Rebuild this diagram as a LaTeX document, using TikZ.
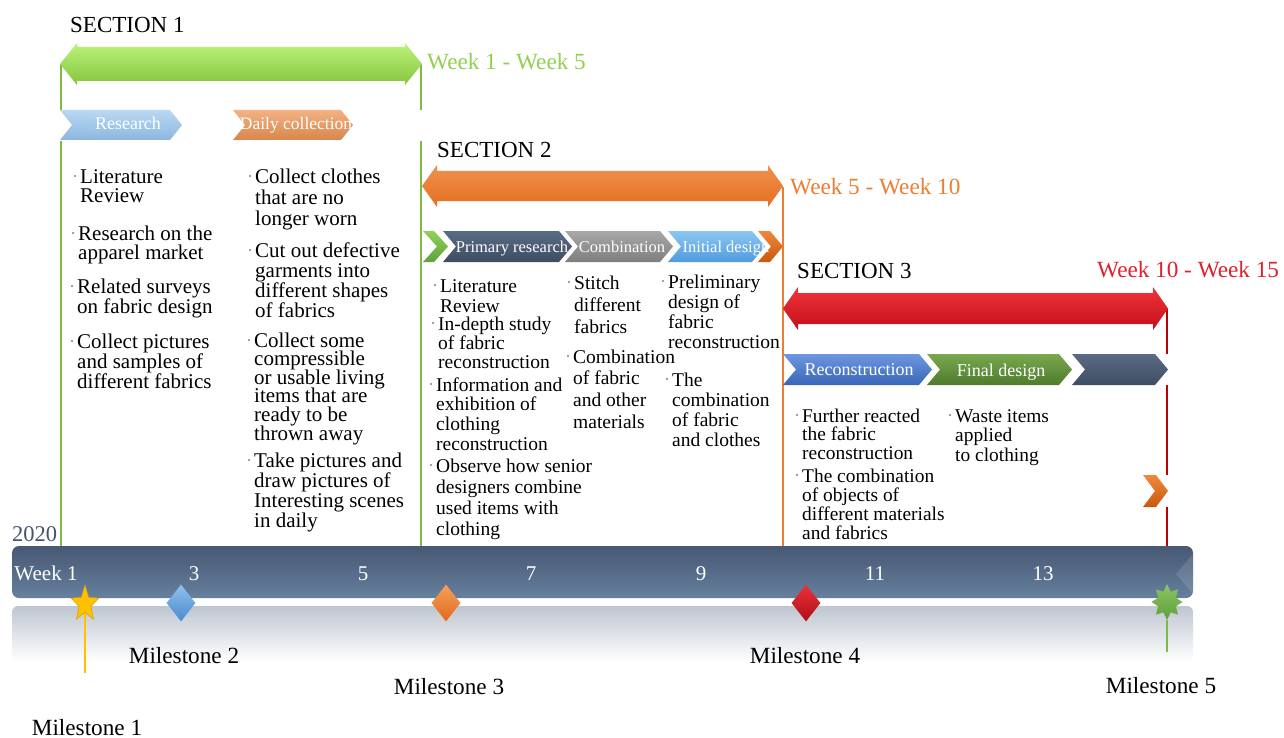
\documentclass[tikz,border=0pt]{standalone}
\usepackage{fontspec}
\setmainfont{Liberation Serif}
\usetikzlibrary{shapes.geometric}
\definecolor{gArrT}{HTML}{BDF27A}
\definecolor{gArrB}{HTML}{84C63E}
\definecolor{oArrT}{HTML}{F0904F}
\definecolor{oArrB}{HTML}{E46F1F}
\definecolor{rArrT}{HTML}{F0343C}
\definecolor{rArrB}{HTML}{C30F18}
\definecolor{gLine}{HTML}{7DBB42}
\definecolor{oLine}{HTML}{ED7D31}
\definecolor{rLine}{HTML}{C00000}
\definecolor{gTxt}{HTML}{92D050}
\definecolor{oTxt}{HTML}{ED7D31}
\definecolor{rTxt}{HTML}{E0202A}
\definecolor{slate}{HTML}{44546A}
\definecolor{barT}{HTML}{475873}
\definecolor{barB}{HTML}{66809E}
\definecolor{reflT}{HTML}{BFC6D1}
\definecolor{dotc}{HTML}{808080}
\definecolor{msY}{HTML}{FFC000}
\definecolor{msYD}{HTML}{D9A000}
\definecolor{bdT}{HTML}{8EC0EC}
\definecolor{bdB}{HTML}{4A8BD0}
\definecolor{odT}{HTML}{F4A05A}
\definecolor{odB}{HTML}{E06A1A}
\definecolor{rdT}{HTML}{E8323A}
\definecolor{rdB}{HTML}{B00E16}
\definecolor{gsT}{HTML}{8BC660}
\definecolor{gsB}{HTML}{5E9E3A}
\newcommand{\chev}[8]{%
  \definecolor{chT}{HTML}{#7}\definecolor{chB}{HTML}{#8}%
  \shade[top color=chT, bottom color=chB] (#2,#4) -- ({#3-#6},#4) -- (#3,{(#4+#5)/2}) -- ({#3-#6},#5) -- (#2,#5) -- ({#2+#6},{(#4+#5)/2}) -- cycle;
  \coordinate (#1) at ({(#2+#3)/2},{(#4+#5)/2});
}
\newcommand{\darrow}[8]{%
  \shade[top color=#7, bottom color=#8] (#1,#3) -- ({#1+#6},{#3-#5}) -- ({#1+#6},{#3-#4}) -- ({#2-#6},{#3-#4}) -- ({#2-#6},{#3-#5}) -- (#2,#3) -- ({#2-#6},{#3+#5}) -- ({#2-#6},{#3+#4}) -- ({#1+#6},{#3+#4}) -- ({#1+#6},{#3+#5}) -- cycle;
}
\newcommand{\mlines}[1]{\vtop{\let\\\cr\lineskiplimit=-30pt\lineskip=0pt\halign{##\hfil\cr#1\crcr}}}
\newcommand{\bitem}[6]{%
  \node[anchor=base west, inner sep=0, font=\fontsize{#2}{#3}\selectfont] (#1) at (#4,#5) {\mlines{#6}};
  \fill[dotc] ([shift={(-5,-7)}]#1.base west) circle (1.1);
}
\begin{document}
\begin{tikzpicture}[x=1pt,y=-1pt,
  secttitle/.style={anchor=base west, inner sep=0, font=\fontsize{23}{23}\selectfont},
  weeklbl/.style={anchor=base west, inner sep=0, font=\fontsize{23.2}{23.2}\selectfont},
  chevlbl/.style={anchor=base, inner sep=0, text=white, font=\fontsize{18}{18}\selectfont},
  chevlblsmall/.style={anchor=base, inner sep=0, text=white, font=\fontsize{16.5}{16.5}\selectfont},
  tllbl/.style={anchor=base, inner sep=0, text=white, font=\fontsize{21}{21}\selectfont},
  mslbl/.style={anchor=base, inner sep=0, font=\fontsize{23.2}{23.2}\selectfont},
  gline/.style={draw=gLine, line width=1.6},
  oline/.style={draw=oLine, line width=1.6},
  rline/.style={draw=rLine, line width=1.6},
  dmd/.style={diamond, inner sep=0, minimum width=29, minimum height=37}
]
\useasboundingbox (0,0) rectangle (1284,738);
\fill[white] (0,0) rectangle (1284,738);

% section boundary lines
\draw[gline] (61,64) -- (61,110);
\draw[gline] (61,141) -- (61,546);
\draw[gline] (421,64) -- (421,110);
\draw[gline] (421,141) -- (421,546);
\draw[oline] (783,187) -- (783,546);
\draw[rline] (1167,308) -- (1167,354);
\draw[rline] (1167,385) -- (1167,475);
\draw[rline] (1167,507) -- (1167,546);

% section arrows
\darrow{60}{422}{64}{17}{21}{17}{gArrT}{gArrB}
\darrow{422}{783}{186}{15}{21}{15}{oArrT}{oArrB}
\darrow{783}{1168}{308.5}{15.5}{21.5}{15}{rArrT}{rArrB}

% titles
\node[secttitle] (t1) at (70,33) {SECTION 1};
\node[secttitle] (t2) at (437,158) {SECTION 2};
\node[secttitle] (t3) at (797,278) {SECTION 3};
\node[weeklbl, text=gTxt] (wk1) at (427,70) {Week 1 - Week 5};
\node[weeklbl, text=oTxt] (wk2) at (790,195) {Week 5 - Week 10};
\node[weeklbl, text=rTxt] (wk3) at (1097,277) {Week 10 - Week 15};

% section 1 chevrons
\chev{c1}{60}{182}{110}{140}{12}{B9D8F2}{8DB7E0}
\chev{c2}{233}{353}{110}{140}{12}{F2B283}{D8864C}
\node[chevlbl] (c1t) at (128,130) {Research};
\node[chevlbl, font=\fontsize{17.5}{17.5}\selectfont] (c2t) at (296,130) {Daily collection};

% section 2 chevrons
\chev{c3}{423}{448}{231}{262}{14}{8FD15A}{5FA33A}
\chev{c4}{443}{572}{231}{262}{13}{5A6B84}{3C4C63}
\chev{c5}{565}{673}{231}{262}{13}{A8A8A8}{7E7E7E}
\chev{c6}{668}{765}{231}{262}{13}{8CC6F3}{4F9BDD}
\chev{c7}{758}{783}{231}{262}{13}{F0883A}{C9590F}
\node[chevlblsmall] (c4t) at (512,252) {Primary research};
\node[chevlblsmall] (c5t) at (622,252) {Combination};
\node[chevlblsmall] (c6t) at (726,252) {Initial design};

% section 3 chevrons
\chev{c8}{783}{932}{354}{385}{13}{6D97DF}{3A66B8}
\chev{c9}{927}{1072}{354}{385}{13}{79A84F}{4E7B2D}
\chev{c10}{1072}{1168}{354}{385}{13}{5B6B83}{3E4D63}
\chev{c11}{1143}{1168}{475}{507}{12}{F0883A}{C9590F}
\node[chevlbl] (c8t) at (859,375) {Reconstruction};
\node[chevlbl] (c9t) at (1001,376) {Final design};

% section 1 text
\bitem{s1a}{21}{20}{80}{183}{Literature\\Review}
\bitem{s1b}{21}{20}{78}{240}{Research on the\\apparel market}
\bitem{s1c}{21}{20}{77}{293}{Related surveys\\on fabric design}
\bitem{s1d}{21}{20}{77}{348}{Collect pictures\\and samples of\\different fabrics}
\bitem{s1e}{21}{21}{255}{183}{Collect clothes\\that are no\\longer worn}
\bitem{s1f}{21}{20.3}{255}{257}{Cut out defective\\garments into\\different shapes\\of fabrics}
\bitem{s1g}{21}{18.6}{254}{347}{Collect some\\compressible\\or usable living\\items that are\\ready to be\\thrown away}
\bitem{s1h}{21}{20}{254}{467}{Take pictures and\\draw pictures of\\Interesting scenes\\in daily}

% section 2 text
\bitem{s2a}{19.5}{20}{440}{292}{Literature\\Review}
\bitem{s2b}{19.5}{19}{438}{330}{In-depth study\\of fabric\\reconstruction}
\bitem{s2c}{19.5}{19.7}{436}{391}{Information and\\exhibition of\\clothing\\reconstruction}
\bitem{s2d}{19.5}{21}{436}{472}{Observe how senior\\designers combine\\used items with\\clothing}
\bitem{s2e}{19.5}{22}{574}{289}{Stitch\\different\\fabrics}
\bitem{s2f}{19.5}{21.7}{573}{363}{Combination\\of fabric\\and other\\materials}
\bitem{s2g}{19.5}{20}{668}{288}{Preliminary\\design of\\fabric\\reconstruction}
\bitem{s2h}{19.5}{20}{672}{386}{The\\combination\\of fabric\\and clothes}

% section 3 text
\bitem{s3a}{19.4}{18.5}{802}{422}{Further reacted\\the fabric\\reconstruction}
\bitem{s3b}{19.4}{19.3}{802}{482}{The combination\\of objects of\\different materials\\and fabrics}
\bitem{s3c}{19.4}{19.5}{955}{422}{Waste items\\applied\\to clothing}

% timeline bar and reflection
\shade[top color=reflT, bottom color=white, rounded corners=6] (12,606) rectangle (1193,662);
\node[rectangle, rounded corners=7, minimum width=1181, minimum height=52, inner sep=0,
      top color=barT, bottom color=barB] (bar) at (602.5,572) {};
\fill[white, opacity=0.12] (1193,554) -- (1176,574) -- (1193,594) -- cycle;
\node[anchor=base west, inner sep=0, text=slate, font=\fontsize{22.5}{22.5}\selectfont] (yr) at (12,541) {2020};
\node[tllbl] (w1) at (46,580) {Week 1};
\node[tllbl] (w3) at (194,580) {3};
\node[tllbl] (w5) at (363,580) {5};
\node[tllbl] (w7) at (531,580) {7};
\node[tllbl] (w9) at (701,580) {9};
\node[tllbl] (w11) at (875,580) {11};
\node[tllbl] (w13) at (1043,580) {13};

% milestones
\begin{scope}[shift={(85,604)}, yscale=1.3]
\node[star, star points=5, star point ratio=2.3, minimum size=29, inner sep=0, transform shape,
      fill=msY, draw=msYD, line width=0.5] (m1) at (0,0) {};
\end{scope}
\coordinate (m1e) at (85,673);
\draw[msY, line width=1.6] (m1.south) -- (m1e);
\node[dmd, top color=bdT, bottom color=bdB] (m2) at (181,603) {};
\node[dmd, top color=odT, bottom color=odB] (m3) at (446,603) {};
\node[dmd, top color=rdT, bottom color=rdB] (m4) at (806,603) {};
\begin{scope}[shift={(1167,602)}, yscale=1.15]
\node[star, star points=8, star point ratio=1.6, minimum size=31, inner sep=0, transform shape,
      top color=gsT, bottom color=gsB] (m5) at (0,0) {};
\end{scope}
\coordinate (m5e) at (1167,652);
\draw[gLine, line width=1.6] (m5.south) -- (m5e);

\node[mslbl] (l1) at (87,735) {Milestone 1};
\node[mslbl] (l2) at (184,663) {Milestone 2};
\node[mslbl] (l3) at (449,694) {Milestone 3};
\node[mslbl] (l4) at (805,663) {Milestone 4};
\node[mslbl] (l5) at (1161,693) {Milestone 5};
\end{tikzpicture}
\end{document}
